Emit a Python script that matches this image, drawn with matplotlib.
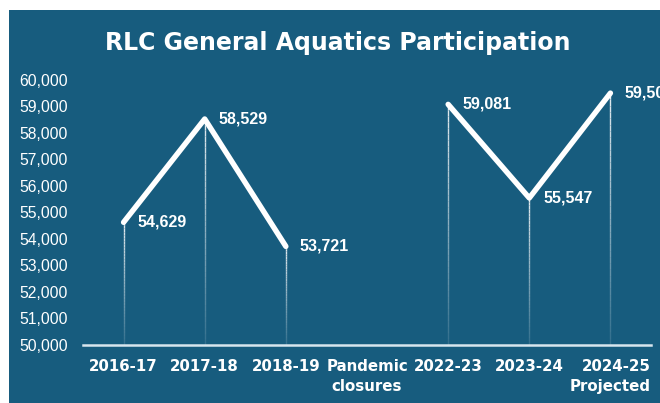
import numpy as np
import matplotlib
matplotlib.use("Agg")
import matplotlib.pyplot as plt
from matplotlib.patches import Rectangle
from matplotlib.ticker import FuncFormatter

# Participation by season (None = no season recorded)
seasons = ["2016-17", "2017-18", "2018-19", "Pandemic\nclosures",
           "2022-23", "2023-24", "2024-25\nProjected"]
participation = [54629, 58529, 53721, None, 59081, 55547, 59506]

y_min, y_max, y_step = 50000, 60000, 1000
bg = "#175c7e"

fig = plt.figure(figsize=(6.6, 4.03), dpi=100, facecolor="white")
fig.patches.append(Rectangle((9 / 660, 0), 1, 393 / 403, transform=fig.transFigure,
                             facecolor=bg, edgecolor="none", zorder=-10))

ax = fig.add_axes([83 / 660, 58 / 403, 568 / 660, 265 / 403])
ax.set_facecolor("none")
ax.set_zorder(1)
x = np.arange(len(seasons))
ax.set_xlim(-0.5, len(seasons) - 0.5)
ax.set_ylim(y_min, y_max)

# thin drop lines from each value down to the baseline, fading downward
for xi, v in zip(x, participation):
    if v is None:
        continue
    n = 40
    ys = np.linspace(y_min, v, n + 1)
    for k in range(n):
        a = 0.12 + 0.78 * (k / n)
        ax.plot([xi, xi], [ys[k], ys[k + 1]], color="white", lw=1.0,
                alpha=a, solid_capstyle="butt", zorder=2)

# main line, broken at the closure gap
vals = np.array([np.nan if v is None else v for v in participation], dtype=float)
ax.plot(x, vals, color="white", lw=3.9, solid_capstyle="round",
        solid_joinstyle="round", zorder=3, clip_on=False)

for xi, v in zip(x, participation):
    if v is None:
        continue
    ax.annotate(f"{v:,}", (xi, v), xytext=(10, 0), textcoords="offset points",
                ha="left", va="center", color="white", fontsize=11.5,
                fontweight="bold", family="Liberation Sans", zorder=4,
                annotation_clip=False)

for s in ["top", "right", "left"]:
    ax.spines[s].set_visible(False)
ax.spines["bottom"].set_color("#d8e6ee")
ax.spines["bottom"].set_linewidth(1.8)

ax.set_yticks(np.arange(y_min, y_max + 1, y_step))
ax.yaxis.set_major_formatter(FuncFormatter(lambda v, p: f"{int(v):,}"))
ax.tick_params(axis="y", length=0, pad=11, labelcolor="white", labelsize=11.3)
for t in ax.get_yticklabels():
    t.set_family("Liberation Sans")

ax.set_xticks(x)
ax.set_xticklabels(seasons, fontsize=10.8, fontweight="bold", color="white",
                   family="DejaVu Sans", linespacing=1.45)
ax.tick_params(axis="x", length=0, pad=10)
lbls = ax.get_xticklabels()
lbls[6].set_multialignment("right")

fig.text(338 / 660, 1 - 43 / 403, "RLC General Aquatics Participation",
         ha="center", va="center", color="white", fontsize=17,
         fontweight="bold", family="DejaVu Sans")

fig.savefig("out.png", dpi=100, facecolor=fig.get_facecolor())
